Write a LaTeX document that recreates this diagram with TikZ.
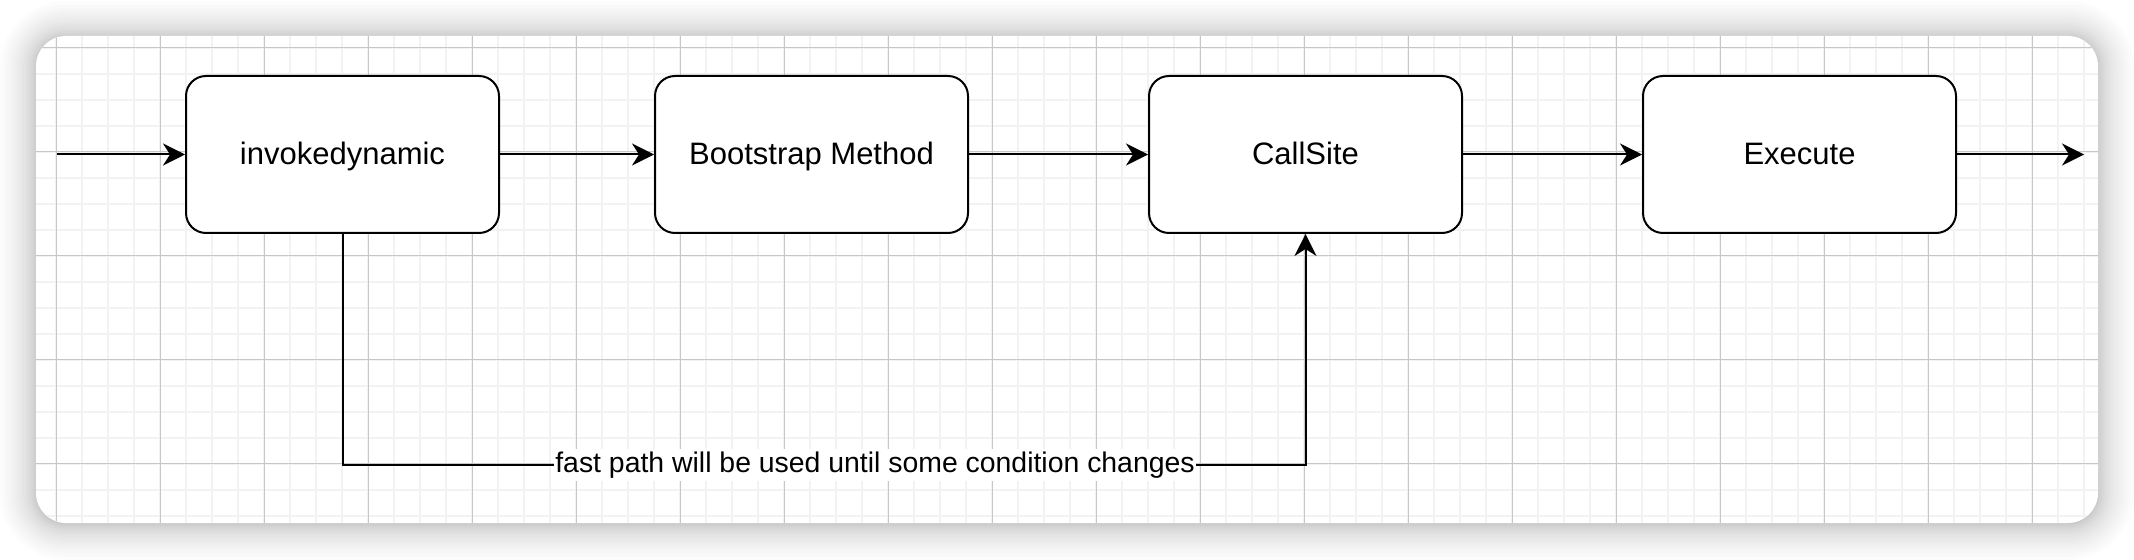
\documentclass[tikz,border=0pt]{standalone}
\usepackage{fontspec}
\setmainfont{Liberation Sans}
\usetikzlibrary{arrows.meta,positioning}

\tikzset{
    stepbox/.style={draw,line width=1pt,rounded corners=10pt,fill=white,
        minimum width=156.5pt,minimum height=78.5pt,inner sep=0pt,
        text height=10.5pt,text depth=0pt,
        font=\fontsize{15.5}{18}\selectfont},
    flow/.style={line width=1pt,-{Stealth[length=11pt,width=11pt,inset=3.5pt]}},
    minorgrid/.style={black!5,line width=0.8pt},
    majorgrid/.style={black!22,line width=0.5pt},
}

\begin{document}
\begin{tikzpicture}[x=0.5pt,y=-0.5pt]
    \useasboundingbox (0,0) rectangle (2134,560);
    % soft shadow and sheet
    \foreach \i in {1,...,20}{
        \pgfmathsetmacro\off{36*(\i/20)^2}
        \pgfmathsetmacro\rad{15+\off/2}
        \fill[black,opacity=0.011,rounded corners=\rad pt]
            (36-\off,37-\off) rectangle (2098+\off,524+\off);
    }
    \fill[white,rounded corners=15pt] (36,36) rectangle (2098,523);
    \begin{scope}
        \clip[rounded corners=15pt] (36,36) rectangle (2098,523);
        \foreach \x in {4,30,...,2110} \draw[minorgrid] (\x,36) -- (\x,523);
        \foreach \y in {22,48,...,530} \draw[minorgrid] (36,\y) -- (2098,\y);
        \foreach \x in {56,160,...,2100} \draw[majorgrid] (\x,36) -- (\x,523);
        \foreach \y in {48,152,...,530} \draw[majorgrid] (36,\y) -- (2098,\y);
    \end{scope}

    % the steps
    \node[stepbox] (indy)  at (342.5,154.5)  {invokedynamic};
    \node[stepbox] (bsm)   at (811.5,154.5)  {Bootstrap Method};
    \node[stepbox] (site)  at (1305.5,154.5) {CallSite};
    \node[stepbox] (exec)  at (1799.5,154.5) {Execute};
    \coordinate (start) at (57,154.5);
    \coordinate (stop)  at (2084,154.5);
    \coordinate (fast)  at (342.5,465);

    \draw[flow] (start) -- (indy);
    \draw[flow] (indy) -- (bsm);
    \draw[flow] (bsm) -- (site);
    \draw[flow] (site) -- (exec);
    \draw[flow] (exec) -- (stop);
    \draw[flow] (indy.south) -- (fast)
        -- node[pos=0.553,fill=white,inner xsep=0.5pt,inner ysep=4pt,
                text height=8pt,text depth=0pt,
                font=\fontsize{14.2}{16}\selectfont] (fastlbl)
           {fast path will be used until some condition changes}
        (site.south |- fast) -- (site.south);
\end{tikzpicture}
\end{document}
